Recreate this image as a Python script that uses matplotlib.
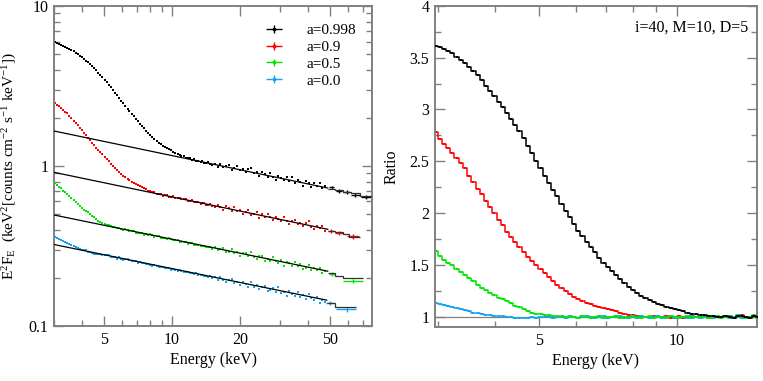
import numpy as np
import matplotlib
matplotlib.use("Agg")
import matplotlib.pyplot as plt
from matplotlib import ticker
from matplotlib.container import ErrorbarContainer
from matplotlib.legend_handler import HandlerErrorbar

plt.rcParams['font.family'] = ['Liberation Serif', 'DejaVu Serif']
plt.rcParams['mathtext.fontset'] = 'custom'
plt.rcParams['mathtext.rm'] = 'Liberation Serif'
plt.rcParams['mathtext.it'] = 'Liberation Serif:italic'

# ---------------- data ----------------
labels = ['a=0.998', 'a=0.9', 'a=0.5', 'a=0.0']
colors = ['#000000', '#ff0000', '#00e600', '#12a4f2']

# energy bins (keV) shared by both panels below 15 keV
energy = [2.96, 3.02, 3.09, 3.15, 3.22, 3.29, 3.36, 3.43, 3.51, 3.58,
          3.66, 3.74, 3.82, 3.90, 3.98, 4.07, 4.15, 4.24, 4.33, 4.43,
          4.52, 4.62, 4.72, 4.82, 4.92, 5.03, 5.14, 5.25, 5.36, 5.47,
          5.59, 5.71, 5.83, 5.96, 6.08, 6.21, 6.35, 6.48, 6.62, 6.76,
          6.91, 7.06, 7.21, 7.36, 7.52, 7.68, 7.85, 8.01, 8.19, 8.36,
          8.54, 8.72, 8.91, 9.10, 9.30, 9.49, 9.70, 9.90, 10.1, 10.3,
          10.6, 10.8, 11.0, 11.3, 11.5, 11.8, 12.0, 12.3, 12.5, 12.8,
          13.1, 13.4, 13.6, 13.9, 14.2, 14.5, 14.8, 15.1]

ratio_a0998 = [3.61, 3.60, 3.58, 3.56, 3.54, 3.51, 3.48, 3.45, 3.41, 3.37,
               3.33, 3.28, 3.23, 3.18, 3.13, 3.07, 3.02, 2.97, 2.91, 2.85,
               2.79, 2.72, 2.65, 2.58, 2.50, 2.43, 2.36, 2.29, 2.22, 2.16,
               2.09, 2.02, 1.96, 1.89, 1.83, 1.78, 1.72, 1.67, 1.62, 1.57,
               1.52, 1.48, 1.44, 1.40, 1.36, 1.32, 1.29, 1.26, 1.23, 1.20,
               1.18, 1.16, 1.14, 1.12, 1.11, 1.09, 1.08, 1.07, 1.06, 1.05,
               1.04, 1.03, 1.03, 1.02, 1.02, 1.01, 1.01, 1.00, 0.995, 1.01,
               1.00, 0.99, 1.005, 1.01, 0.995, 0.99, 1.01, 1.00]
ratio_a09 = [2.78, 2.71, 2.67, 2.63, 2.58, 2.53, 2.48, 2.43, 2.36, 2.30,
             2.23, 2.18, 2.12, 2.06, 2.00, 1.93, 1.88, 1.82, 1.77, 1.72,
             1.67, 1.62, 1.58, 1.54, 1.50, 1.46, 1.42, 1.38, 1.34, 1.31,
             1.28, 1.25, 1.22, 1.19, 1.17, 1.15, 1.13, 1.12, 1.10, 1.09,
             1.08, 1.07, 1.06, 1.05, 1.04, 1.03, 1.02, 1.02, 1.01, 1.01,
             1.00, 1.00, 1.01, 0.995, 1.00, 1.01, 0.99, 1.00, 1.005, 0.99,
             1.00, 1.01, 0.995, 1.00, 1.01, 0.99, 1.00, 1.01, 0.995, 1.00,
             1.01, 0.99, 1.00, 1.015, 0.99, 1.00, 1.01, 0.995]
ratio_a05 = [1.63, 1.59, 1.55, 1.52, 1.50, 1.46, 1.43, 1.40, 1.37, 1.34,
             1.31, 1.28, 1.26, 1.23, 1.21, 1.18, 1.17, 1.15, 1.13, 1.10,
             1.09, 1.07, 1.05, 1.04, 1.03, 1.03, 1.02, 1.02, 1.01, 1.01,
             1.01, 1.00, 1.00, 1.00, 0.99, 1.01, 1.00, 0.99, 1.00, 1.005,
             0.99, 1.00, 1.00, 1.01, 0.99, 1.00, 0.985, 1.01, 1.00, 0.99,
             1.00, 1.01, 0.99, 1.00, 1.00, 0.99, 1.01, 1.00, 0.99, 1.00,
             1.01, 0.99, 1.00, 1.00, 1.01, 0.99, 1.00, 1.01, 0.985, 1.00,
             1.01, 0.99, 1.00, 1.01, 0.99, 1.00, 1.015, 0.99]
ratio_a00 = [1.13, 1.12, 1.11, 1.10, 1.09, 1.08, 1.07, 1.06, 1.05, 1.04,
             1.04, 1.03, 1.02, 1.02, 1.01, 1.01, 1.01, 1.00, 1.00, 0.99,
             0.99, 0.99, 0.985, 1.00, 0.99, 1.00, 1.00, 1.01, 0.99, 1.00,
             1.00, 0.99, 1.01, 1.00, 0.99, 1.00, 1.01, 1.00, 0.99, 1.00,
             1.01, 0.99, 1.00, 1.00, 1.01, 0.99, 1.00, 1.00, 0.99, 1.01,
             1.00, 0.99, 1.00, 1.01, 0.99, 1.00, 1.01, 0.99, 1.00, 1.00,
             0.99, 1.01, 1.00, 0.99, 1.00, 1.01, 0.99, 1.00, 1.00, 1.01,
             0.99, 1.00, 1.015, 0.99, 1.00, 1.00, 1.01, 0.99]

# E^2 F_E spectra on the same bins
spec_a0998 = [6.00, 5.95, 5.87, 5.81, 5.74, 5.65, 5.57, 5.49, 5.39, 5.29,
              5.20, 5.09, 4.98, 4.87, 4.77, 4.64, 4.54, 4.44, 4.32, 4.21,
              4.09, 3.97, 3.84, 3.71, 3.58, 3.45, 3.34, 3.21, 3.10, 3.00,
              2.88, 2.77, 2.67, 2.56, 2.46, 2.38, 2.28, 2.20, 2.12, 2.05,
              1.97, 1.91, 1.84, 1.78, 1.72, 1.66, 1.61, 1.56, 1.51, 1.47,
              1.44, 1.40, 1.37, 1.34, 1.32, 1.29, 1.27, 1.25, 1.23, 1.21,
              1.19, 1.18, 1.15, 1.15, 1.13, 1.12, 1.12, 1.09, 1.10, 1.08,
              1.07, 1.06, 1.08, 1.05, 1.04, 1.06, 1.03, 1.02]
spec_a09 = [2.55, 2.47, 2.42, 2.37, 2.31, 2.25, 2.19, 2.13, 2.06, 1.99,
            1.92, 1.86, 1.80, 1.74, 1.68, 1.61, 1.56, 1.50, 1.45, 1.40,
            1.35, 1.30, 1.26, 1.22, 1.185, 1.145, 1.11, 1.07, 1.03, 1.00,
            0.974, 0.945, 0.917, 0.888, 0.867, 0.848, 0.827, 0.815, 0.795, 0.784,
            0.772, 0.760, 0.748, 0.736, 0.725, 0.714, 0.702, 0.698, 0.686, 0.683,
            0.671, 0.667, 0.670, 0.652, 0.655, 0.658, 0.640, 0.643, 0.645, 0.629,
            0.630, 0.632, 0.618, 0.618, 0.621, 0.605, 0.607, 0.609, 0.594, 0.596,
            0.598, 0.582, 0.585, 0.588, 0.572, 0.574, 0.577, 0.562]
spec_a05 = [0.808, 0.784, 0.759, 0.740, 0.726, 0.702, 0.683, 0.665, 0.647, 0.628,
            0.610, 0.593, 0.580, 0.562, 0.550, 0.533, 0.525, 0.513, 0.501, 0.485,
            0.477, 0.466, 0.454, 0.447, 0.440, 0.437, 0.430, 0.427, 0.420, 0.418,
            0.415, 0.409, 0.407, 0.404, 0.397, 0.403, 0.396, 0.390, 0.391, 0.393,
            0.383, 0.384, 0.382, 0.383, 0.373, 0.375, 0.368, 0.374, 0.368, 0.362,
            0.363, 0.365, 0.355, 0.357, 0.354, 0.348, 0.354, 0.348, 0.343, 0.344,
            0.344, 0.336, 0.337, 0.334, 0.336, 0.327, 0.329, 0.330, 0.322, 0.323,
            0.323, 0.315, 0.317, 0.318, 0.310, 0.311, 0.312, 0.304]
spec_a00 = [0.366, 0.361, 0.355, 0.350, 0.345, 0.339, 0.334, 0.329, 0.324, 0.319,
            0.317, 0.312, 0.307, 0.305, 0.300, 0.298, 0.297, 0.292, 0.290, 0.285,
            0.283, 0.282, 0.280, 0.281, 0.276, 0.277, 0.276, 0.277, 0.269, 0.271,
            0.269, 0.264, 0.269, 0.264, 0.259, 0.261, 0.262, 0.257, 0.253, 0.255,
            0.256, 0.249, 0.250, 0.248, 0.249, 0.243, 0.244, 0.242, 0.238, 0.241,
            0.237, 0.234, 0.234, 0.235, 0.230, 0.230, 0.231, 0.225, 0.226, 0.225,
            0.221, 0.224, 0.221, 0.217, 0.218, 0.218, 0.213, 0.214, 0.212, 0.213,
            0.207, 0.208, 0.209, 0.204, 0.204, 0.203, 0.204, 0.199]

# higher-energy bins of the spectra (left panel only)
energy_hi = [15.5, 16.0, 16.4, 16.9, 17.4, 17.9, 18.4, 18.9, 19.4, 20.0,
             20.6, 21.2, 21.8, 22.4, 23.0, 23.7, 24.4, 25.1, 25.8, 26.5,
             27.3, 28.0, 28.8, 29.6, 30.5, 31.3, 32.2, 33.1, 34.1, 35.0,
             36.0, 37.1, 38.1, 39.2, 40.3, 41.5, 42.6, 43.8, 45.1, 46.4, 47.7]
spec_hi_a0998 = [1.03, 0.99, 1.035, 0.986, 1.006, 1.019, 0.942, 0.973, 1.005, 0.939,
                 0.959, 0.913, 0.951, 0.972, 0.900, 0.911, 0.867, 0.920, 0.897, 0.855,
                 0.907, 0.859, 0.817, 0.869, 0.845, 0.814, 0.857, 0.810, 0.858, 0.780,
                 0.814, 0.789, 0.745, 0.809, 0.779, 0.742, 0.781, 0.745, 0.783, 0.725, 0.748]
spec_hi_a09 = [0.557, 0.569, 0.554, 0.534, 0.560, 0.545, 0.525, 0.552, 0.523, 0.533,
               0.503, 0.519, 0.534, 0.496, 0.501, 0.513, 0.473, 0.498, 0.480, 0.500,
               0.482, 0.460, 0.483, 0.466, 0.453, 0.481, 0.450, 0.433, 0.455, 0.462,
               0.431, 0.440, 0.420, 0.442, 0.451, 0.418, 0.401, 0.423, 0.412, 0.424, 0.392]
spec_hi_a05 = [0.311, 0.299, 0.303, 0.306, 0.288, 0.292, 0.302, 0.285, 0.292, 0.275,
               0.284, 0.286, 0.273, 0.288, 0.271, 0.264, 0.272, 0.275, 0.254, 0.263,
               0.255, 0.271, 0.254, 0.247, 0.258, 0.238, 0.251, 0.246, 0.237, 0.250,
               0.236, 0.243, 0.227, 0.232, 0.242, 0.223, 0.231, 0.223, 0.232, 0.214, 0.221]
spec_hi_a00 = [0.201, 0.193, 0.202, 0.194, 0.187, 0.195, 0.198, 0.186, 0.189, 0.181,
               0.188, 0.182, 0.175, 0.188, 0.175, 0.180, 0.171, 0.175, 0.179, 0.165,
               0.169, 0.173, 0.163, 0.175, 0.161, 0.164, 0.155, 0.165, 0.158, 0.154,
               0.162, 0.152, 0.156, 0.147, 0.159, 0.149, 0.145, 0.151, 0.140, 0.145, 0.142]

# last wide bins (with error bars)
tail_E = [[51.0, 55.0, 59.5, 65.0, 72.5], [50.5, 55.0, 63.5], [51.0, 63.5], [50.0, 59.5]]
tail_dE = [[1.3, 1.8, 2.2, 2.8, 4.0], [1.5, 2.0, 4.0], [1.5, 6.5], [2.0, 6.0]]
tail_y = [[0.735, 0.700, 0.684, 0.660, 0.640], [0.392, 0.380, 0.364], [0.210, 0.192], [0.140, 0.127]]
tail_dy = [[0.02, 0.02, 0.02, 0.02, 0.02], [0.012, 0.012, 0.012], [0.006, 0.006], [0.004, 0.004]]

# power-law continuum models: straight part + stepped high-energy bins
cont_E = [[3.0, 49.0], [3.0, 49.0], [3.0, 49.0], [3.0, 48.5]]
cont_y = [[1.655, 0.728], [0.913, 0.402], [0.494, 0.220], [0.323, 0.145]]
cont_step_edges = [[49.0, 53.0, 57.5, 62.0, 68.0, 77.0], [49.0, 53.0, 57.0, 61.0, 68.0],
                   [49.0, 52.5, 57.3, 70.2], [48.5, 52.6, 65.6]]
cont_step_vals = [[0.72, 0.705, 0.69, 0.675, 0.65], [0.395, 0.385, 0.375, 0.362],
                  [0.215, 0.205, 0.1995], [0.140, 0.131]]

spectra_lo = [spec_a0998, spec_a09, spec_a05, spec_a00]
spectra_hi = [spec_hi_a0998, spec_hi_a09, spec_hi_a05, spec_hi_a00]
ratios = [ratio_a0998, ratio_a09, ratio_a05, ratio_a00]

left_xticks = [5, 10, 20, 50]
left_yticks = [0.1, 1, 10]
right_xticks = [5, 10]

# ---------------- figure ----------------
fig = plt.figure(figsize=(7.63, 3.81), dpi=100)
axL = fig.add_axes([0.0708, 0.1444, 0.4168, 0.8398])
axR = fig.add_axes([0.5701, 0.1417, 0.4220, 0.8431])

spine_col = '#808080'
fs = 11.5

for ax in (axL, axR):
    for s in ax.spines.values():
        s.set_color(spine_col)
        s.set_linewidth(1.4)
    ax.tick_params(which='both', direction='in', top=True, right=True,
                   color=spine_col, labelsize=fs, width=1.0)
    ax.tick_params(which='major', length=7, pad=4)
    ax.tick_params(which='minor', length=4.5)

# left panel
axL.set_xscale('log')
axL.set_yscale('log')
for i in range(4):
    c = colors[i]
    axL.plot(energy, spectra_lo[i], ls='none', marker='s', ms=2.0, mew=0, color=c, zorder=2)
    axL.plot(energy_hi, spectra_hi[i], ls='none', marker='s', ms=2.0, mew=0, color=c, zorder=2)
    axL.errorbar(tail_E[i], tail_y[i], xerr=tail_dE[i], yerr=tail_dy[i], fmt='none',
                 ecolor=c, elinewidth=1.0, zorder=2)
    axL.plot(cont_E[i], cont_y[i], color='black', lw=0.9, zorder=3)
    axL.stairs(cont_step_vals[i], cont_step_edges[i], baseline=None,
               color='#303030', lw=0.9, zorder=3)

axL.set_xlim(3.0, 77)
axL.set_ylim(0.1, 10)
axL.set_xticks(left_xticks)
axL.set_xticklabels([str(t) for t in left_xticks])
axL.xaxis.set_minor_locator(ticker.LogLocator(base=10, subs=np.arange(2, 10)))
axL.xaxis.set_minor_formatter(ticker.NullFormatter())
axL.set_yticks(left_yticks)
axL.set_yticklabels(['0.1', '1', '10'])
axL.yaxis.set_minor_locator(ticker.LogLocator(base=10, subs=np.arange(2, 10)))
axL.yaxis.set_minor_formatter(ticker.NullFormatter())
axL.set_xlabel('Energy (keV)', fontsize=fs, labelpad=3)
axL.set_ylabel(r'E$^2$F$_\mathrm{E}$  (keV$^2$[counts cm$^{-2}$ s$^{-1}$ keV$^{-1}$])', fontsize=11)
axL.yaxis.set_label_coords(-0.11, 0.5)

handles = []
for i in range(4):
    h = axL.errorbar([np.nan], [np.nan], xerr=[1], yerr=[1], fmt='s', ms=2,
                     color=colors[i], ecolor=colors[i], elinewidth=1.0, label=labels[i])
    handles.append(h)
axL.legend(handles=handles, loc='upper left', bbox_to_anchor=(0.668, 0.945),
           frameon=False, fontsize=11, borderpad=0, borderaxespad=0,
           labelspacing=0.2, handlelength=1.0, handletextpad=1.65,
           handler_map={ErrorbarContainer: HandlerErrorbar(xerr_size=0.5, yerr_size=0.25)})

# right panel
axR.set_xscale('log')
axR.axhline(1.0, color='#808080', lw=0.9, zorder=1)
for i in [1, 3, 2, 0]:
    axR.plot(energy, ratios[i], drawstyle='steps-mid', color=colors[i], lw=1.1,
             marker='s', ms=1.6, mew=0, zorder=2 + (i == 0))
axR.set_xlim(2.95, 15.0)
axR.set_ylim(0.9, 4.0)
axR.set_xticks(right_xticks)
axR.set_xticklabels([str(t) for t in right_xticks])
axR.xaxis.set_minor_locator(ticker.LogLocator(base=10, subs=np.arange(2, 10)))
axR.xaxis.set_minor_formatter(ticker.NullFormatter())
axR.yaxis.set_major_locator(ticker.MultipleLocator(0.5))
axR.yaxis.set_minor_locator(ticker.MultipleLocator(0.25))
axR.yaxis.set_major_formatter(ticker.FormatStrFormatter('%g'))
axR.set_xlabel('Energy (keV)', fontsize=fs, labelpad=3)
axR.set_ylabel('Ratio', fontsize=fs)
axR.yaxis.set_label_coords(-0.109, 0.5)
axR.text(0.972, 0.931, 'i=40, M=10, D=5', transform=axR.transAxes,
         ha='right', va='center', fontsize=fs)

fig.savefig('out.png', dpi=100)
